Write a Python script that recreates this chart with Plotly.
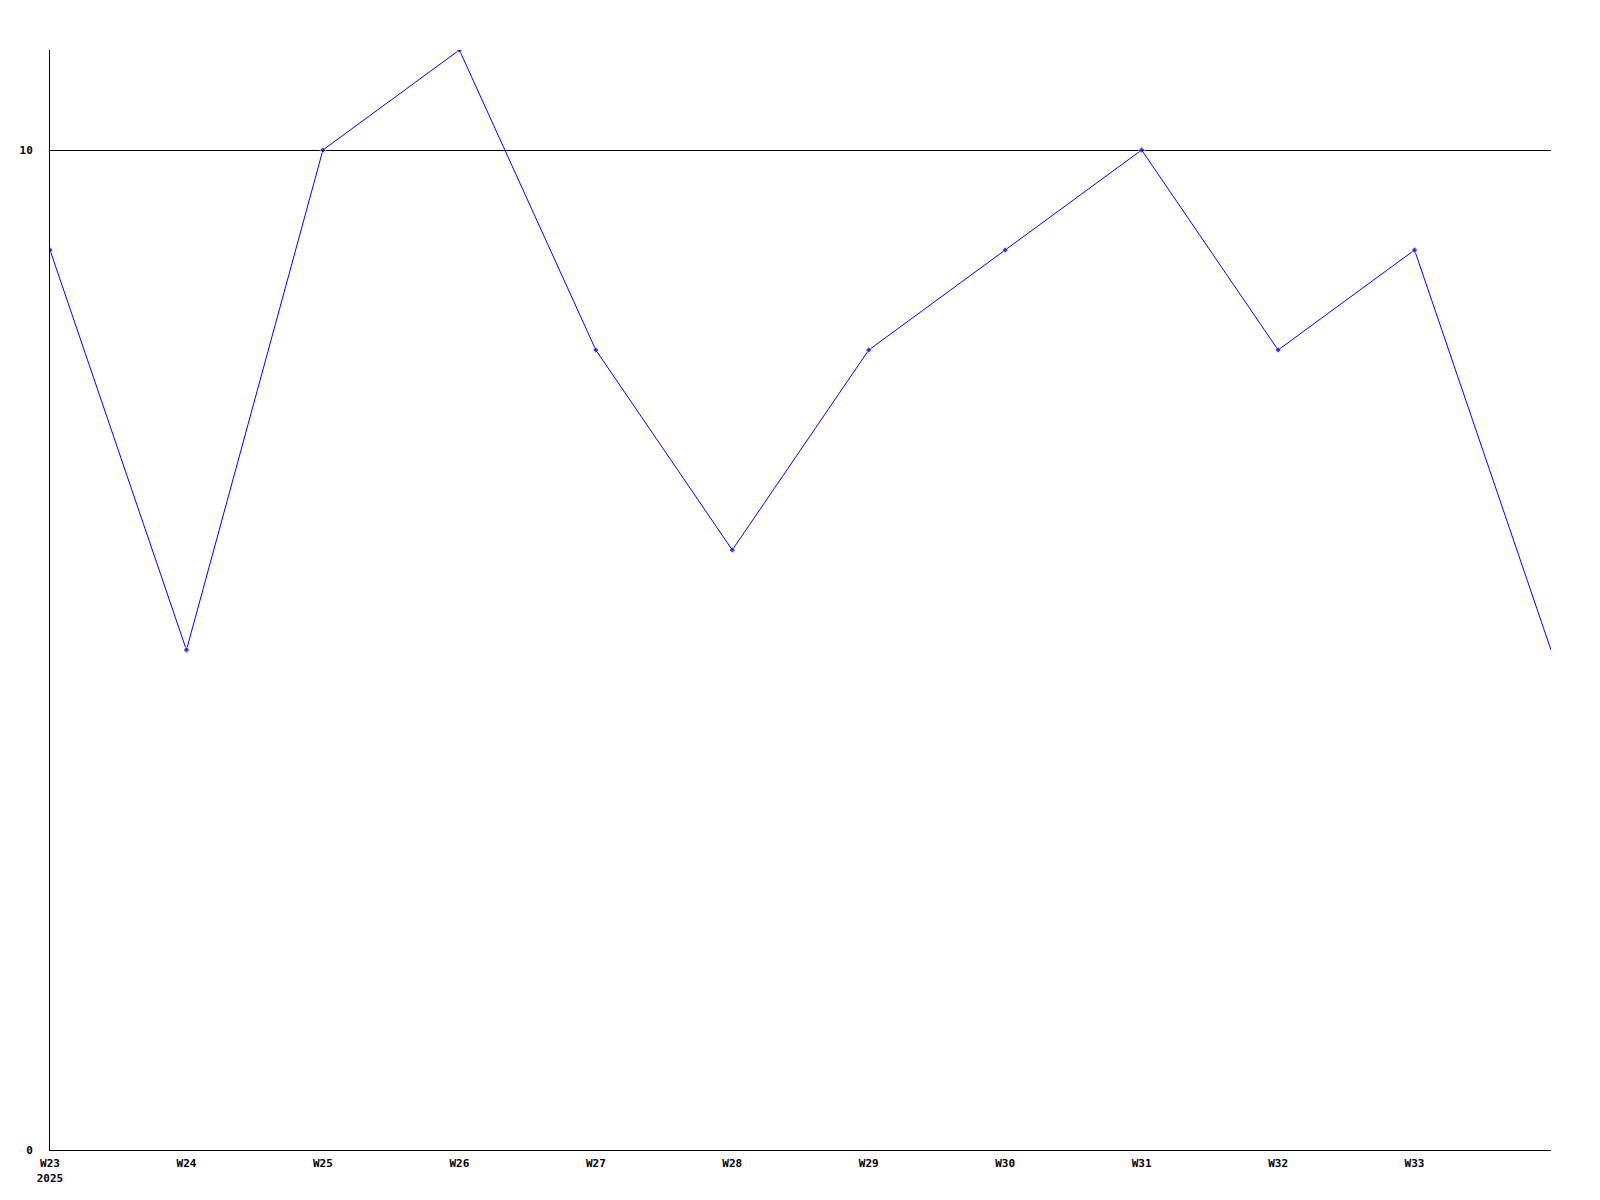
import plotly.graph_objects as go

weeks = ["W23", "W24", "W25", "W26", "W27", "W28", "W29", "W30", "W31", "W32", "W33", "W34"]
values = [9, 5, 10, 11, 8, 6, 8, 9, 10, 8, 9, 5]
tick_labels = ["W23<br>2025", "W24", "W25", "W26", "W27", "W28", "W29", "W30", "W31", "W32", "W33"]
y_ticks = [0, 10]

x_idx = list(range(len(weeks)))
marker_sizes = [5] * (len(weeks) - 1) + [0]

fig = go.Figure()
fig.add_trace(go.Scatter(
    x=x_idx, y=values, mode="lines+markers",
    line=dict(color="#0000ff", width=1),
    marker=dict(symbol="diamond", size=marker_sizes, color="#0000ff"),
    showlegend=False, hoverinfo="skip",
))

tickfont = dict(family="DejaVu Sans Mono", size=11, color="black", weight="bold")

fig.update_layout(
    width=1592, height=1192,
    margin=dict(l=42, r=49, t=42, b=50),
    paper_bgcolor="white", plot_bgcolor="white",
    xaxis=dict(
        range=[0, 11], tickmode="array",
        tickvals=x_idx[:len(tick_labels)], ticktext=tick_labels,
        showgrid=False, zeroline=False, showline=True, linecolor="black", linewidth=1,
        ticks="", tickfont=tickfont, ticklabelstandoff=3,
    ),
    yaxis=dict(
        range=[0, 11], tickmode="array", tickvals=y_ticks,
        showgrid=True, gridcolor="black", gridwidth=1,
        zeroline=False, showline=True, linecolor="black", linewidth=1,
        ticks="", tickfont=tickfont, ticklabelstandoff=14,
    ),
)

fig.write_html("out.html")
